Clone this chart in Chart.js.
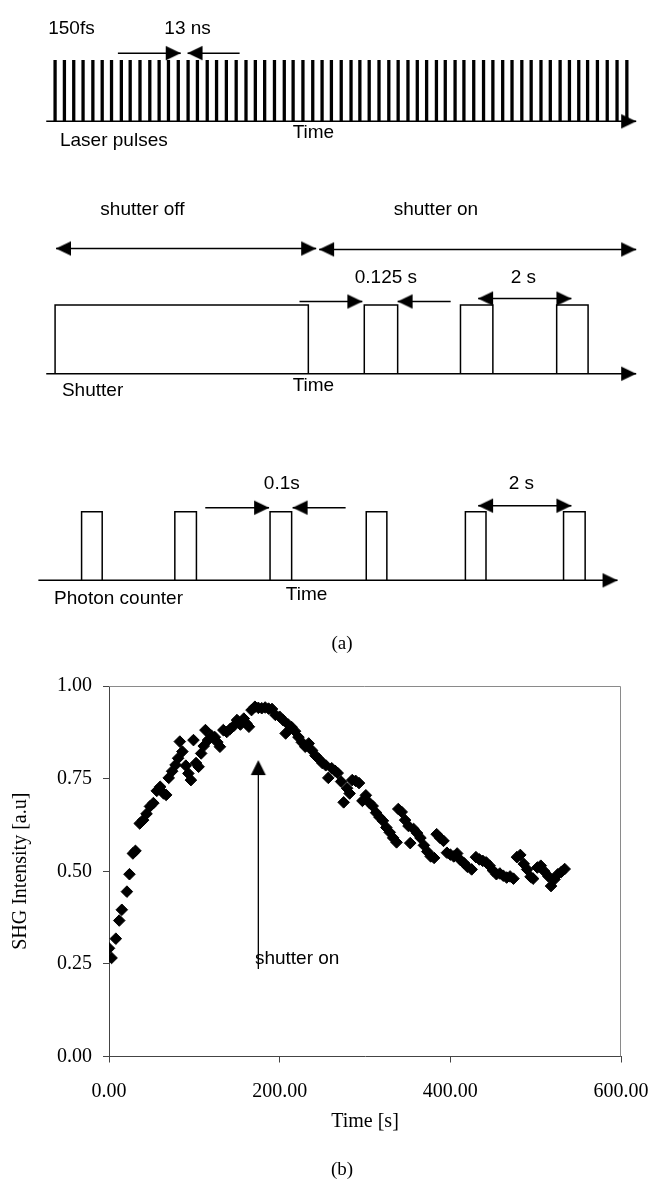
<!DOCTYPE html>
<html><head><meta charset="utf-8">
<script src="https://cdn.jsdelivr.net/npm/chart.js@4.4.1/dist/chart.umd.min.js"></script>
<style>
html,body{margin:0;padding:0;background:#fff;}
#wrap{position:relative;width:652px;height:1180px;overflow:hidden;background:#fff;}
canvas{position:absolute;left:0;}
#ca{top:0;} #cb{top:660px;}
</style></head><body>
<div id="wrap"><canvas id="ca" width="652" height="660"></canvas><canvas id="cb" width="652" height="520"></canvas></div>
<script>
// ================= DATA: panel (b) =================
const timeS = [0,3,8,12,15,21,24,28,31,36,40,44,48,52,56,60,64,67,70,74,78,81,83,86,90,93,96,99,102,105,108,111,113,116,120,124,127,130,134,138,142,146,150,154,158,161,164,167,171,175,179,183,187,191,195,200,204,207,210,214,218,222,226,230,234,238,242,246,250,254,257,261,265,268,272,275,279,282,285,289,293,297,301,305,309,313,317,321,325,329,333,337,339,343,347,351,353,357,361,365,369,373,377,381,384,388,392,396,400,404,408,412,416,420,425,430,434,438,442,446,450,454,458,462,466,470,474,478,482,486,490,494,497,502,506,510,515,518,522,526,530,534];
const shgIntensity = [0.292,0.266,0.318,0.367,0.396,0.445,0.492,0.548,0.555,0.629,0.638,0.655,0.675,0.684,0.717,0.728,0.710,0.706,0.752,0.770,0.787,0.805,0.850,0.823,0.785,0.764,0.746,0.854,0.792,0.782,0.818,0.838,0.881,0.854,0.866,0.862,0.848,0.836,0.881,0.876,0.884,0.892,0.908,0.896,0.912,0.899,0.890,0.935,0.944,0.941,0.940,0.942,0.939,0.938,0.922,0.917,0.908,0.872,0.896,0.889,0.878,0.862,0.848,0.836,0.845,0.826,0.812,0.803,0.792,0.786,0.752,0.778,0.771,0.765,0.742,0.686,0.724,0.710,0.746,0.744,0.738,0.690,0.705,0.685,0.676,0.658,0.646,0.636,0.618,0.605,0.590,0.578,0.668,0.660,0.638,0.622,0.576,0.614,0.603,0.590,0.570,0.553,0.540,0.536,0.600,0.590,0.582,0.550,0.545,0.540,0.548,0.530,0.522,0.512,0.505,0.538,0.532,0.528,0.524,0.515,0.502,0.492,0.494,0.488,0.483,0.486,0.480,0.538,0.544,0.520,0.505,0.485,0.480,0.510,0.515,0.500,0.486,0.460,0.478,0.492,0.498,0.506];
const xTickValues = [0, 200, 400, 600];
const yTickValues = [0, 0.25, 0.50, 0.75, 1.00];
const shutterOnMark = {t: 175, from: 0.236, to: 0.80, label: 'shutter on', labelT: 171, labelV: 0.263};

// ================= DATA: panel (a) (schematic units) =================
const laserPulseX = [50,59.5,69,78.5,88.5,98,107.5,117.5,126.5,136.5,146.5,156,165.5,175.5,185.5,195,205,214.5,224.5,234.5,244.5,254,263.5,273.5,283.5,292.5,302.5,312.5,322,331.5,341.5,351.5,360.5,370,380,390,399.5,409.5,419,428.5,438.5,447.5,457.5,466.5,476.5,486.5,496,506,515.5,525.5,535,545,554.5,564.5,574,583.5,592.5,602.5,612.5,622.5,632.5];
const laserRow = {base: 117.5, top: 55};
const shutterRow = {base: 374.5, top: 304.5};
const photonRow = {base: 585, top: 515};
const shutterWindows = [[50,308],[365,399],[463,496],[561,593]];
const photonWindows = [[77,98],[172,194],[269,291],[367,388],[468,489],[568,590]];
// arrows: [x1,y1,x2,y2,doubleHeaded]
const schematicArrows = [
  [41,117.5,642,117.5,false],
  [114,48,178,48,false],[238,48,185,48,false],
  [51,247,316,247,true],[319,248,642,248,true],
  [299,301,363,301,false],[453,301,399,301,false],[481,298,576,298,true],
  [41,374.5,642,374.5,false],
  [203,511,268,511,false],[346,511,292,511,false],[481,509,576,509,true],
  [33,585,623,585,false]
];
const schematicLabels = [
  ['150fs',43,23,'left'],['13 ns',185,23,'center'],['Laser pulses',55,137,'left'],['Time',292,129,'left'],
  ['shutter off',139,208,'center'],['shutter on',438,208,'center'],['0.125 s',387,277,'center'],['2 s',527,277,'center'],
  ['Shutter',57,392,'left'],['Time',292,387,'left'],
  ['0.1s',281,487,'center'],['2 s',525,487,'center'],['Photon counter',49,604,'left'],['Time',285,600,'left']
];

// ================= helpers =================
function makeArrowHead(len, half){
  const s = Math.ceil(len*2+4), c = s/2;
  const cv = document.createElement('canvas'); cv.width = s; cv.height = s;
  const g = cv.getContext('2d'); g.fillStyle = '#000';
  g.beginPath(); g.moveTo(c, c); g.lineTo(c-len, c-half); g.lineTo(c-len, c+half); g.closePath(); g.fill();
  return cv;
}
const headA = makeArrowHead(15, 7.3);
const headB = makeArrowHead(15, 7.5);
function lineSet(points, width){
  return {type:'scatter', data: points.map(p=>({x:p[0], y:p[1]})), showLine:true, borderColor:'#000', borderWidth:width,
    pointRadius:0, pointHoverRadius:0, fill:false, tension:0};
}

// ================= panel (a) =================
const dsA = [];
laserPulseX.forEach(x => dsA.push(lineSet([[x, laserRow.base],[x, laserRow.top]], 3.3)));
shutterWindows.forEach(w => dsA.push(lineSet([[w[0],shutterRow.base],[w[0],shutterRow.top],[w[1],shutterRow.top],[w[1],shutterRow.base]],1.5)));
photonWindows.forEach(w => dsA.push(lineSet([[w[0],photonRow.base],[w[0],photonRow.top],[w[1],photonRow.top],[w[1],photonRow.base]],1.5)));
const headPts = [], headRot = [];
schematicArrows.forEach(a => {
  dsA.push(lineSet([[a[0],a[1]],[a[2],a[3]]], 1.5));
  const ang = Math.atan2(a[3]-a[1], a[2]-a[0]) * 180/Math.PI;
  headPts.push({x:a[2], y:a[3]}); headRot.push(ang);
  if (a[4]) { headPts.push({x:a[0], y:a[1]}); headRot.push(ang+180); }
});
dsA.push({type:'scatter', data: headPts, pointStyle: headA, rotation: headRot, pointRadius: 5, showLine:false});

const textA = {
  id:'textA',
  afterDatasetsDraw(chart){
    const {ctx, scales:{x, y}} = chart;
    ctx.save(); ctx.fillStyle = '#000'; ctx.textBaseline = 'middle';
    ctx.font = '19px "Liberation Sans", Arial, sans-serif';
    schematicLabels.forEach(l => { ctx.textAlign = l[3]; ctx.fillText(l[0], x.getPixelForValue(l[1]), y.getPixelForValue(l[2])); });
    ctx.font = '19px "Liberation Serif", "Times New Roman", serif';
    ctx.textAlign = 'center';
    ctx.fillText('(a)', 342, 644);
    ctx.restore();
  }
};

new Chart(document.getElementById('ca'), {
  type:'scatter',
  data:{datasets: dsA},
  options:{
    responsive:false, animation:false, devicePixelRatio:1,
    layout:{padding:0},
    plugins:{legend:{display:false}, tooltip:{enabled:false}},
    events:[],
    scales:{
      x:{type:'linear', min:0, max:652, display:false},
      y:{type:'linear', min:0, max:660, reverse:true, display:false}
    }
  },
  plugins:[textA]
});

// ================= panel (b) =================
const serif = '"Liberation Serif", "Times New Roman", serif';
const frameB = {
  id:'frameB',
  beforeDatasetsDraw(chart){
    const {ctx, chartArea:a} = chart;
    ctx.save(); ctx.strokeStyle = '#8a8a8a'; ctx.lineWidth = 1;
    ctx.beginPath(); ctx.moveTo(a.left, a.top+0.5); ctx.lineTo(a.right-0.5, a.top+0.5); ctx.lineTo(a.right-0.5, a.bottom); ctx.stroke();
    ctx.restore();
  },
  afterDatasetsDraw(chart){
    const {ctx, scales:{x, y}} = chart;
    ctx.save(); ctx.fillStyle = '#000';
    ctx.font = '19px "Liberation Sans", Arial, sans-serif'; ctx.textAlign = 'left'; ctx.textBaseline = 'middle';
    ctx.fillText(shutterOnMark.label, x.getPixelForValue(shutterOnMark.labelT), y.getPixelForValue(shutterOnMark.labelV));
    ctx.font = '19px ' + serif; ctx.textAlign = 'center';
    ctx.fillText('(b)', 342, 510);
    ctx.restore();
  }
};

new Chart(document.getElementById('cb'), {
  type:'scatter',
  data:{datasets:[
    {data: timeS.map((t,i)=>({x:t, y:shgIntensity[i]})), pointStyle:'rectRot', pointRadius:5.8, pointBorderWidth:1,
     backgroundColor:'#000', borderColor:'#000', showLine:false},
    {data:[{x:shutterOnMark.t, y:shutterOnMark.from},{x:shutterOnMark.t, y:shutterOnMark.to-0.02}], showLine:true, borderColor:'#000', borderWidth:1.3, pointRadius:0},
    {data:[{x:shutterOnMark.t, y:shutterOnMark.to}], pointStyle: headB, rotation:-90, pointRadius:5, showLine:false}
  ]},
  options:{
    responsive:false, animation:false, devicePixelRatio:1,
    layout:{padding:{left:0, top:26, right:31, bottom:0}},
    plugins:{legend:{display:false}, tooltip:{enabled:false}},
    events:[],
    scales:{
      x:{type:'linear', min:0, max:600,
        afterBuildTicks: s => { s.ticks = xTickValues.map(v=>({value:v})); },
        afterFit: s => { s.height = 123.5; s.paddingLeft = 0; s.paddingRight = 0; },
        ticks:{callback: v => Number(v).toFixed(2), color:'#000', font:{family:serif, size:20}, padding:17, maxRotation:0, autoSkip:false},
        grid:{drawOnChartArea:false, drawTicks:true, tickLength:6, color:'#444'},
        border:{color:'#444', width:1},
        title:{display:true, text:'Time [s]', color:'#000', font:{family:serif, size:20}, padding:{top:0, bottom:46}}
      },
      y:{type:'linear', min:0, max:1,
        afterBuildTicks: s => { s.ticks = yTickValues.map(v=>({value:v})); },
        afterFit: s => { s.width = 109; s.paddingTop = 0; s.paddingBottom = 0; },
        ticks:{callback: v => Number(v).toFixed(2), color:'#000', font:{family:serif, size:20}, padding:11, autoSkip:false},
        grid:{drawOnChartArea:false, drawTicks:true, tickLength:6, color:'#444'},
        border:{color:'#444', width:1},
        title:{display:true, text:'SHG Intensity [a.u]', color:'#000', font:{family:serif, size:20}, padding:{top:9, bottom:0}}
      }
    }
  },
  plugins:[frameB]
});
</script>
</body></html>
